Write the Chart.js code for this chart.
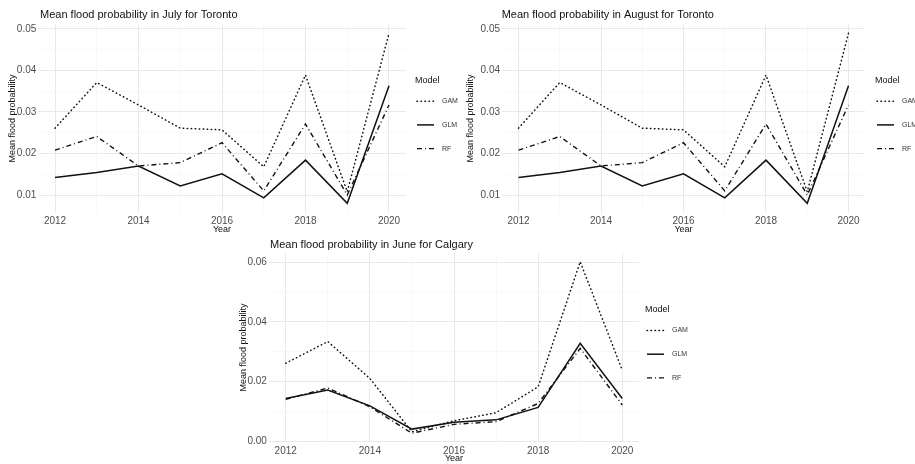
<!DOCTYPE html>
<html>
<head>
<meta charset="utf-8">
<script src="https://cdn.jsdelivr.net/npm/chart.js@4"></script>
<style>
  html, body { margin: 0; padding: 0; background: #fff; overflow: hidden; }
  #wrap { position: relative; width: 915px; height: 464px; }
  canvas { position: absolute; }
</style>
</head>
<body>
<div id="wrap">
  <canvas id="julyToronto" width="470" height="235" style="left:0;top:0"></canvas>
  <canvas id="augustToronto" width="455" height="235" style="left:460px;top:0"></canvas>
  <canvas id="juneCalgary" width="470" height="232" style="left:220px;top:232px"></canvas>
</div>
<script>
// data
const years = [2012, 2013, 2014, 2015, 2016, 2017, 2018, 2019, 2020];
const models = ['GAM', 'GLM', 'RF'];

const julyTorontoGAM = [0.0261, 0.0371, 0.0317, 0.0261, 0.0257, 0.0168, 0.0389, 0.0108, 0.0490];
const julyTorontoGLM = [0.0142, 0.0154, 0.0170, 0.0122, 0.0151, 0.0093, 0.0184, 0.0080, 0.0363];
const julyTorontoRF  = [0.0208, 0.0241, 0.0170, 0.0178, 0.0226, 0.0110, 0.0271, 0.0100, 0.0317];

const augustTorontoGAM = [0.0261, 0.0371, 0.0317, 0.0261, 0.0257, 0.0168, 0.0389, 0.0108, 0.0490];
const augustTorontoGLM = [0.0142, 0.0154, 0.0170, 0.0122, 0.0151, 0.0093, 0.0184, 0.0080, 0.0363];
const augustTorontoRF  = [0.0208, 0.0241, 0.0170, 0.0178, 0.0226, 0.0110, 0.0271, 0.0100, 0.0317];

const juneCalgaryGAM = [0.0261, 0.0334, 0.0210, 0.0031, 0.0068, 0.0095, 0.0182, 0.0602, 0.0238];
const juneCalgaryGLM = [0.0143, 0.0171, 0.0118, 0.0040, 0.0063, 0.0071, 0.0113, 0.0328, 0.0143];
const juneCalgaryRF  = [0.0140, 0.0178, 0.0115, 0.0026, 0.0056, 0.0065, 0.0126, 0.0311, 0.0121];

// tick labels
const yearMajor = [2012, 2014, 2016, 2018, 2020];
const yearMinor = [2013, 2015, 2017, 2019];
const torontoMajor = [0.01, 0.02, 0.03, 0.04, 0.05];
const torontoMinor = [0.015, 0.025, 0.035, 0.045];
const calgaryMajor = [0, 0.02, 0.04, 0.06];
const calgaryMinor = [0.01, 0.03, 0.05];

Chart.defaults.font.family = "'Liberation Sans', Arial, sans-serif";

const lineStyles = {
  GAM: { borderDash: [0.5, 3.5], borderWidth: 1.5, borderCapStyle: 'round' },
  GLM: { borderDash: [], borderWidth: 1.5, borderCapStyle: 'butt' },
  RF:  { borderDash: [5, 3, 1, 3], borderWidth: 1.4, borderCapStyle: 'butt' }
};

const ggText = {
  id: 'ggText',
  afterDraw(chart, args, opts) {
    const ctx = chart.ctx;
    ctx.save();
    ctx.fillStyle = '#111';
    ctx.textBaseline = 'middle';
    ctx.textAlign = 'left';
    ctx.font = "11px 'Liberation Sans', Arial, sans-serif";
    ctx.fillText(opts.title, opts.tx, opts.ty);

    ctx.font = "9px 'Liberation Sans', Arial, sans-serif";
    ctx.fillText('Model', opts.lx, opts.ly);
    chart.data.datasets.forEach((ds, i) => {
      const y = opts.ly + 20.5 + i * 23.7;
      ctx.strokeStyle = '#111';
      ctx.lineWidth = ds.borderWidth;
      ctx.lineCap = ds.borderCapStyle;
      ctx.setLineDash(ds.borderDash);
      ctx.beginPath();
      ctx.moveTo(opts.lx + 2, y);
      ctx.lineTo(opts.lx + 19, y);
      ctx.stroke();
      ctx.setLineDash([]);
      ctx.fillStyle = '#333';
      ctx.font = "7px 'Liberation Sans', Arial, sans-serif";
      ctx.fillText(ds.label, opts.lx + 27, y);
    });
    ctx.restore();
  }
};

function buildTicks(major, minor) {
  return major.map(v => ({ value: v, isMinor: false }))
    .concat(minor.map(v => ({ value: v, isMinor: true })))
    .sort((a, b) => a.value - b.value);
}

function gridColor(c) {
  return c.tick && c.tick.isMinor ? '#f4f4f4' : '#e9e9e9';
}

function makePanel(id, p) {
  const series = [p.gam, p.glm, p.rf];
  new Chart(document.getElementById(id), {
    type: 'line',
    data: {
      datasets: models.map((m, k) => Object.assign({
        label: m,
        data: years.map((yr, i) => ({ x: yr, y: series[k][i] })),
        borderColor: '#111',
        pointRadius: 0,
        tension: 0,
        fill: false
      }, lineStyles[m]))
    },
    options: {
      responsive: false,
      animation: false,
      devicePixelRatio: 1,
      layout: { padding: { left: 0, top: p.area.t, right: p.w - p.area.r, bottom: 0 } },
      plugins: {
        legend: { display: false },
        tooltip: { enabled: false },
        ggText: { title: p.title, tx: p.tx, ty: p.ty, lx: p.lx, ly: p.ly }
      },
      scales: {
        x: {
          type: 'linear',
          min: 2011.6,
          max: 2020.4,
          afterBuildTicks: s => { s.ticks = buildTicks(yearMajor, yearMinor); },
          afterFit: s => { s.height = p.h - p.area.b; },
          grid: { color: gridColor, lineWidth: c => c.tick && c.tick.isMinor ? 0.6 : 1, drawTicks: false },
          border: { display: false },
          ticks: {
            autoSkip: false, maxRotation: 0, padding: 3,
            color: '#4d4d4d', font: { size: 10 },
            callback: (v, i, t) => t[i].isMinor ? '' : String(v)
          },
          title: { display: true, text: 'Year', color: '#111', font: { size: 9 }, padding: { top: 0, bottom: 0 } }
        },
        y: {
          min: p.ymin,
          max: p.ymax,
          afterBuildTicks: s => { s.ticks = buildTicks(p.major, p.minor); },
          afterFit: s => { s.width = p.area.l; },
          grid: { color: gridColor, lineWidth: c => c.tick && c.tick.isMinor ? 0.6 : 1, drawTicks: false },
          border: { display: false },
          ticks: {
            autoSkip: false, padding: 2,
            color: '#4d4d4d', font: { size: 10 },
            callback: (v, i, t) => t[i].isMinor ? '' : v.toFixed(2)
          },
          title: { display: true, text: 'Mean flood probability', color: '#111', font: { size: 9 }, padding: { top: p.yPad, bottom: 0 } }
        }
      }
    },
    plugins: [ggText]
  });
}

makePanel('julyToronto', {
  gam: julyTorontoGAM, glm: julyTorontoGLM, rf: julyTorontoRF,
  title: 'Mean flood probability in July for Toronto',
  w: 470, h: 235, area: { l: 38.3, r: 405.7, t: 24.4, b: 212.7 },
  ymin: 0.00574, ymax: 0.0511, major: torontoMajor, minor: torontoMinor,
  yPad: 7.3, tx: 40, ty: 15, lx: 415, ly: 80.7
});

makePanel('augustToronto', {
  gam: augustTorontoGAM, glm: augustTorontoGLM, rf: augustTorontoRF,
  title: 'Mean flood probability in August for Toronto',
  w: 455, h: 235, area: { l: 42, r: 405, t: 24.4, b: 212.7 },
  ymin: 0.00574, ymax: 0.0511, major: torontoMajor, minor: torontoMinor,
  yPad: 4.8, tx: 41.7, ty: 15, lx: 415, ly: 80.7
});

makePanel('juneCalgary', {
  gam: juneCalgaryGAM, glm: juneCalgaryGLM, rf: juneCalgaryRF,
  title: 'Mean flood probability in June for Calgary',
  w: 470, h: 232, area: { l: 48.9, r: 419.1, t: 21.1, b: 209.9 },
  ymin: -0.0003, ymax: 0.0631, major: calgaryMajor, minor: calgaryMinor,
  yPad: 17.9, tx: 50, ty: 13, lx: 425, ly: 78
});
</script>
</body>
</html>
